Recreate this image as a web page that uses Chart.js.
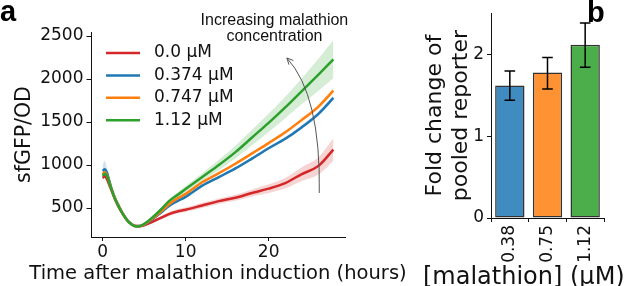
<!DOCTYPE html>
<html>
<head>
<meta charset="utf-8">
<script src="https://cdn.jsdelivr.net/npm/chart.js@4.4.1/dist/chart.umd.min.js"></script>
<style>
  body { margin: 0; background: #fff; }
  #wrap { position: relative; width: 633px; height: 286px; overflow: hidden; background: #fff; }
  canvas { position: absolute; top: 0; }
  .panel { position: absolute; font: bold 29px "Liberation Sans", Arial, sans-serif; line-height: 29px; color: #000; }
</style>
</head>
<body>
<div id="wrap">
  <canvas id="lineChart" width="420" height="286" style="left:0"></canvas>
  <canvas id="barChart" width="213" height="286" style="left:420px"></canvas>
  <div class="panel" style="left:0;top:-3px">a</div>
  <div class="panel" style="left:587px;top:-2px">b</div>
</div>
<script>
// panel a: time course
const hours = [0, 0.25, 0.5, 1, 1.5, 2, 2.5, 3, 3.5, 4, 4.5, 5, 5.5, 6, 7, 8, 9, 10, 12, 14, 16, 18, 20, 22, 24, 26, 27.8];
const seriesLabels = ["0.0 µM", "0.374 µM", "0.747 µM", "1.12 µM"];
const gfp00  = [850, 870, 840, 720, 600, 500, 420, 355, 312, 290, 288, 300, 318, 340, 385, 430, 460, 480, 530, 580, 620, 675, 725, 790, 895, 990, 1180];
const gfp374 = [930, 950, 915, 750, 615, 515, 425, 355, 312, 290, 290, 308, 335, 370, 445, 525, 580, 630, 760, 860, 960, 1075, 1195, 1305, 1440, 1595, 1780];
const gfp747 = [895, 915, 890, 740, 610, 510, 422, 352, 310, 288, 290, 310, 340, 378, 455, 545, 610, 665, 800, 905, 1015, 1135, 1255, 1380, 1525, 1680, 1865];
const gfp112 = [875, 900, 880, 735, 605, 505, 420, 350, 308, 286, 290, 315, 350, 390, 480, 580, 650, 720, 860, 1000, 1150, 1320, 1490, 1670, 1860, 2050, 2230];
// half-width of the shaded band around each line
const spread00  = [20, 25, 20, 15, 12, 10, 10, 10, 10, 10, 10, 10, 12, 15, 20, 25, 25, 25, 30, 32, 35, 40, 50, 60, 80, 100, 130];
const spread374 = [70, 100, 60, 30, 15, 12, 10, 10, 10, 10, 10, 10, 10, 12, 12, 12, 12, 12, 14, 15, 15, 16, 18, 20, 22, 25, 28];
const spread747 = [30, 35, 25, 15, 12, 10, 10, 10, 10, 10, 10, 10, 10, 12, 12, 12, 12, 12, 14, 15, 15, 16, 18, 20, 22, 25, 28];
const spread112 = [30, 35, 25, 15, 12, 10, 10, 10, 10, 10, 10, 10, 12, 15, 20, 25, 30, 35, 45, 60, 75, 90, 105, 125, 150, 185, 220];
const xTicksA = [0, 10, 20];
const yTicksA = [500, 1000, 1500, 2000, 2500];

// panel b: fold change
const doses = ["0.38", "0.75", "1.12"];
const foldChange = [1.62, 1.78, 2.12];
const errLow = [1.44, 1.58, 1.845];
const errHigh = [1.80, 1.965, 2.385];
const yTicksB = [0, 1, 2];

const lineColors = ["#d62728", "#1f77b4", "#ff7f0e", "#2ca02c"];
const bandColors = ["rgba(214,39,40,0.2)", "rgba(31,119,180,0.2)", "rgba(255,127,14,0.2)", "rgba(44,160,44,0.2)"];
const barColors = ["rgba(31,119,180,0.85)", "rgba(255,127,14,0.85)", "rgba(44,160,44,0.85)"];
const ink = "#111";
const dejavu = "DejaVu Sans";

const values = [gfp00, gfp374, gfp747, gfp112];
const spreads = [spread00, spread374, spread747, spread112];

const datasetsA = [];
values.forEach((vals, i) => {
  datasetsA.push({
    data: hours.map((t, k) => ({ x: t, y: vals[k] + spreads[i][k] })),
    borderWidth: 0, pointRadius: 0, fill: false, order: 10,
    cubicInterpolationMode: "monotone"
  });
  datasetsA.push({
    data: hours.map((t, k) => ({ x: t, y: vals[k] - spreads[i][k] })),
    borderWidth: 0, pointRadius: 0, fill: "-1", backgroundColor: bandColors[i], order: 10,
    cubicInterpolationMode: "monotone"
  });
});
values.forEach((vals, i) => {
  datasetsA.push({
    label: seriesLabels[i],
    data: hours.map((t, k) => ({ x: t, y: vals[k] })),
    borderColor: lineColors[i], borderWidth: 2.5, pointRadius: 0, fill: false,
    order: 4 - i, cubicInterpolationMode: "monotone"
  });
});

function axisStyle(tickLen) {
  return {
    grid: { display: true, drawOnChartArea: false, drawTicks: true, tickLength: tickLen, color: ink, lineWidth: 1 },
    border: { display: true, color: ink, width: 1 }
  };
}

// x-axis titles are wider than the plot, so draw them directly (Chart.js squeezes them)
function xTitle(text, size, baseline, left) {
  return {
    id: "xTitle",
    afterDraw(chart) {
      const { ctx, chartArea: ca } = chart;
      ctx.save();
      ctx.font = size + "px " + dejavu;
      ctx.fillStyle = ink;
      ctx.textBaseline = "alphabetic";
      if (left === undefined) {
        ctx.textAlign = "center";
        ctx.fillText(text, (ca.left + ca.right) / 2, baseline);
      } else {
        ctx.textAlign = "left";
        ctx.fillText(text, left, baseline);
      }
      ctx.restore();
    }
  };
}

const decorA = {
  id: "decorA",
  afterDraw(chart) {
    const { ctx, chartArea: ca, scales: { x, y } } = chart;
    ctx.save();
    // legend
    ctx.font = "17px " + dejavu;
    ctx.textBaseline = "middle";
    ctx.textAlign = "left";
    seriesLabels.forEach((lab, i) => {
      const yy = ca.top + 21 + i * 22.4;
      ctx.strokeStyle = lineColors[i];
      ctx.lineWidth = 2.5;
      ctx.beginPath();
      ctx.moveTo(ca.left + 15, yy);
      ctx.lineTo(ca.left + 49, yy);
      ctx.stroke();
      ctx.fillStyle = ink;
      ctx.fillText(lab, ca.left + 63, yy);
    });
    // annotation arrow
    const p0 = [x.getPixelForValue(26.1), y.getPixelForValue(675)];
    const pc = [x.getPixelForValue(26.3), y.getPixelForValue(1814)];
    const p1 = [x.getPixelForValue(22.2), y.getPixelForValue(2245)];
    ctx.strokeStyle = "#555";
    ctx.lineWidth = 1;
    ctx.beginPath();
    ctx.moveTo(p0[0], p0[1]);
    ctx.quadraticCurveTo(pc[0], pc[1], p1[0], p1[1]);
    ctx.stroke();
    const ang = Math.atan2(p1[1] - pc[1], p1[0] - pc[0]);
    ctx.beginPath();
    ctx.moveTo(p1[0] - 7 * Math.cos(ang - 0.45), p1[1] - 7 * Math.sin(ang - 0.45));
    ctx.lineTo(p1[0], p1[1]);
    ctx.lineTo(p1[0] - 7 * Math.cos(ang + 0.45), p1[1] - 7 * Math.sin(ang + 0.45));
    ctx.stroke();
    ctx.font = '16px "Liberation Sans", Arial, sans-serif';
    ctx.fillStyle = ink;
    ctx.textAlign = "center";
    ctx.textBaseline = "alphabetic";
    const tx = x.getPixelForValue(20.7);
    ctx.fillText("Increasing malathion", tx, y.getPixelForValue(2628));
    ctx.fillText("concentration", tx, y.getPixelForValue(2442));
    ctx.restore();
  }
};

new Chart(document.getElementById("lineChart"), {
  type: "line",
  data: { datasets: datasetsA },
  options: {
    responsive: false,
    animation: false,
    layout: { padding: { top: 32, right: 75, left: 0, bottom: 0 } },
    plugins: { legend: { display: false }, tooltip: { enabled: false } },
    scales: {
      x: {
        type: "linear", min: -1.4, max: 29.2,
        afterBuildTicks: s => { s.ticks = xTicksA.map(v => ({ value: v })); },
        afterFit: s => { s.height = 49; },
        ...axisStyle(4),
        ticks: { color: ink, font: { family: dejavu, size: 17 }, padding: 1.5, maxRotation: 0, callback: v => String(v) }
      },
      y: {
        type: "linear", min: 163, max: 2547,
        afterBuildTicks: s => { s.ticks = yTicksA.map(v => ({ value: v })); },
        afterFit: s => { s.width = 91; },
        ...axisStyle(4.5),
        ticks: { color: ink, font: { family: dejavu, size: 17 }, padding: 3, callback: v => String(v) },
        title: { display: true, text: "sfGFP/OD", color: ink,
                 font: { family: dejavu, size: 20.5, lineHeight: 1.2 }, padding: { top: 12, bottom: 0 } }
      }
    }
  },
  plugins: [decorA, xTitle("Time after malathion induction (hours)", 19.5, 278.5)]
});

const errorBars = {
  id: "errorBars",
  afterDatasetsDraw(chart) {
    const { ctx, scales: { y } } = chart;
    const meta = chart.getDatasetMeta(0);
    ctx.save();
    ctx.strokeStyle = "#000";
    ctx.lineWidth = 1.5;
    meta.data.forEach((bar, i) => {
      const hi = y.getPixelForValue(errHigh[i]);
      const lo = y.getPixelForValue(errLow[i]);
      ctx.beginPath();
      ctx.moveTo(bar.x, hi); ctx.lineTo(bar.x, lo);
      ctx.moveTo(bar.x - 5.3, hi); ctx.lineTo(bar.x + 5.3, hi);
      ctx.moveTo(bar.x - 5.3, lo); ctx.lineTo(bar.x + 5.3, lo);
      ctx.stroke();
    });
    ctx.restore();
  }
};

new Chart(document.getElementById("barChart"), {
  type: "bar",
  data: {
    labels: doses,
    datasets: [{
      data: foldChange,
      backgroundColor: barColors,
      borderColor: "#333",
      borderWidth: 1.5,
      borderSkipped: false,
      categoryPercentage: 0.78,
      barPercentage: 1
    }]
  },
  options: {
    responsive: false,
    animation: false,
    layout: { padding: { top: 13, right: 29, left: 0, bottom: 0 } },
    plugins: { legend: { display: false }, tooltip: { enabled: false } },
    scales: {
      x: {
        afterFit: s => { s.height = 68; },
        ...axisStyle(4),
        ticks: { color: ink, font: { family: dejavu, size: 17 }, padding: 3, minRotation: 90, maxRotation: 90 }
      },
      y: {
        type: "linear", min: 0, max: 2.506,
        afterBuildTicks: s => { s.ticks = yTicksB.map(v => ({ value: v })); },
        afterFit: s => { s.width = 71; },
        ...axisStyle(4),
        ticks: { color: ink, font: { family: dejavu, size: 17 }, padding: 3, callback: v => String(v) },
        title: { display: true, text: ["Fold change of", "pooled reporter"], color: ink,
                 font: { family: dejavu, size: 22, lineHeight: 1.18 }, padding: { top: 2, bottom: 0 } }
      }
    }
  },
  plugins: [errorBars, xTitle("[malathion] (µM)", 24, 283.5, 3)]
});
</script>
</body>
</html>
